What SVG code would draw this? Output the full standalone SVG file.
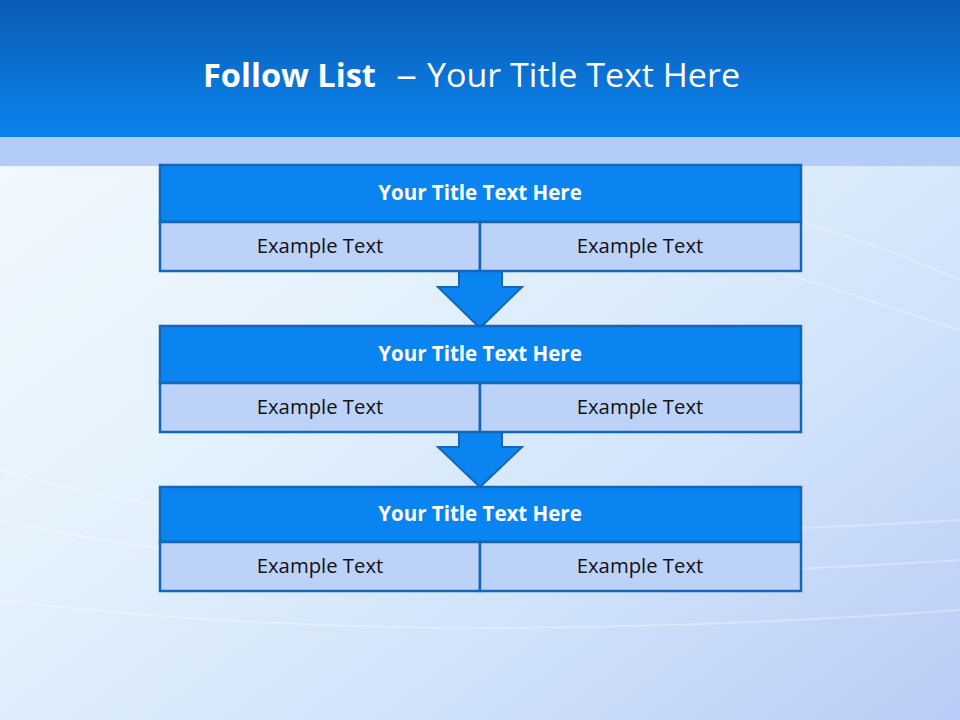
<svg xmlns="http://www.w3.org/2000/svg" width="960" height="720" viewBox="0 0 960 720">
<defs>
<linearGradient id="hdr" x1="0" y1="0" x2="0" y2="1">
<stop offset="0" stop-color="#0A5CB4"/>
<stop offset="1" stop-color="#0A84EE"/>
</linearGradient>
<linearGradient id="bg" x1="0" y1="0" x2="1" y2="1">
<stop offset="0" stop-color="#F6FAFE"/>
<stop offset="0.4" stop-color="#E4F2FC"/>
<stop offset="0.7" stop-color="#D0E3FA"/>
<stop offset="1" stop-color="#BACBF5"/>
</linearGradient>
<style>
.t{fill:#0A84F0;stroke:#1466B8;stroke-width:2.5}
.c{fill:#BCD2F8;stroke:#1466B8;stroke-width:2.5}
.arr{fill:#0A84F0;stroke:#1466B8;stroke-width:2;stroke-linejoin:miter}
.tt{font-family:"Open Sans","Noto Sans",sans-serif;font-weight:bold;font-size:20.5px;fill:#FFFFFF;text-anchor:middle}
.ct{font-family:"Open Sans","Noto Sans",sans-serif;font-size:20.3px;fill:#111111;text-anchor:middle}
.hd{font-family:"Open Sans","Noto Sans",sans-serif;font-size:33px;fill:#FFFFFF}
</style>
</defs>
<rect x="0" y="0" width="960" height="720" fill="url(#bg)"/>
<g fill="none" stroke="#FFFFFF" stroke-opacity="0.3" stroke-width="2">
<path d="M0 470 Q300 560 960 520"/>
<path d="M0 520 Q350 600 960 560"/>
<path d="M0 600 Q400 650 960 610"/>
<path d="M500 190 Q750 260 960 330"/>
<path d="M600 170 Q800 210 960 280"/>
</g>
<rect x="0" y="0" width="960" height="137" fill="url(#hdr)"/>
<rect x="0" y="137" width="960" height="29" fill="#B4CCF8"/>
<text class="hd" y="87"><tspan x="203" font-weight="bold" textLength="173" lengthAdjust="spacingAndGlyphs">Follow List</tspan><tspan x="396" textLength="21" lengthAdjust="spacingAndGlyphs">–</tspan><tspan x="427" textLength="313" lengthAdjust="spacingAndGlyphs">Your Title Text Here</tspan></text>
<g id="connectors">
<polygon class="arr" points="459,271 502,271 502,287 522,287 480,328 438,287 459,287"/>
<polygon class="arr" points="459,432 502,432 502,447 522,447 480,487 438,447 459,447"/>
</g>
<g id="node1">
<rect class="t" x="160" y="165" width="641" height="57"/>
<rect class="c" x="160" y="222" width="320" height="49"/>
<rect class="c" x="480" y="222" width="321" height="49"/>
<text class="tt" x="480" y="200">Your Title Text Here</text>
<text class="ct" x="320" y="253">Example Text</text>
<text class="ct" x="640" y="253">Example Text</text>
</g>
<g id="node2">
<rect class="t" x="160" y="326" width="641" height="57"/>
<rect class="c" x="160" y="383" width="320" height="49"/>
<rect class="c" x="480" y="383" width="321" height="49"/>
<text class="tt" x="480" y="361">Your Title Text Here</text>
<text class="ct" x="320" y="414">Example Text</text>
<text class="ct" x="640" y="414">Example Text</text>
</g>
<g id="node3">
<rect class="t" x="160" y="487" width="641" height="55"/>
<rect class="c" x="160" y="542" width="320" height="49"/>
<rect class="c" x="480" y="542" width="321" height="49"/>
<text class="tt" x="480" y="521">Your Title Text Here</text>
<text class="ct" x="320" y="573">Example Text</text>
<text class="ct" x="640" y="573">Example Text</text>
</g>
</svg>
